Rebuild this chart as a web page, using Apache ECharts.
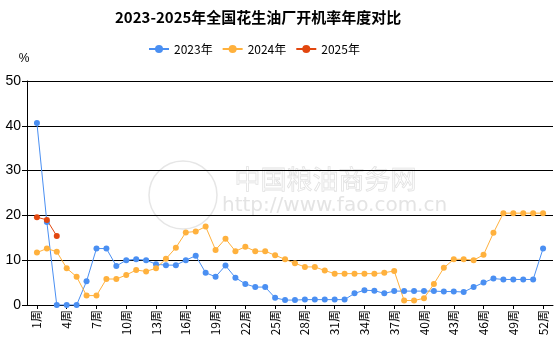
<!DOCTYPE html>
<html>
<head>
<meta charset="utf-8">
<script src="https://cdn.jsdelivr.net/npm/echarts@6/dist/echarts.min.js"></script>
<style>
  html, body { margin: 0; padding: 0; background: #fff; }
  #chart { width: 556px; height: 340px; }
</style>
</head>
<body>
<div id="chart"></div>
<script>
// Weekly operating rate of peanut oil mills (%), weeks 1-52
const weeks = [];
for (let i = 1; i <= 52; i++) weeks.push(i + '周');

const yTicks = [0, 10, 20, 30, 40, 50];

const rate2023 = [
  40.6, 18.5, 0, 0, 0, 5.3, 12.6, 12.6, 8.7, 10.0,
  10.2, 10.0, 9.1, 8.9, 8.9, 10.0, 11.0, 7.2, 6.3, 8.8,
  6.1, 4.7, 4.0, 4.0, 1.6, 1.1, 1.1, 1.2, 1.2, 1.2,
  1.2, 1.2, 2.6, 3.3, 3.2, 2.6, 3.1, 3.1, 3.1, 3.1,
  3.1, 3.0, 3.0, 2.9, 4.0, 5.0, 5.9, 5.7, 5.7, 5.7,
  5.7, 12.6
];

const rate2024 = [
  11.7, 12.6, 11.9, 8.2, 6.3, 2.1, 2.1, 5.8, 5.8, 6.7,
  7.8, 7.5, 8.2, 10.3, 12.8, 16.2, 16.4, 17.5, 12.3, 14.8,
  12.0, 13.0, 12.0, 12.0, 11.1, 10.2, 9.3, 8.5, 8.5, 7.7,
  7.0, 7.0, 7.0, 7.0, 7.0, 7.2, 7.6, 1.0, 1.0, 1.5,
  4.7, 8.3, 10.2, 10.2, 10.0, 11.2, 16.1, 20.5, 20.5, 20.5,
  20.5, 20.5
];

const rate2025 = [19.6, 19.0, 15.4];

// Category axis padded with one empty slot on each side
const axisCats = [''].concat(weeks, ['']);
const pad = arr => [null].concat(arr);
const showWeek = idx => idx >= 1 && idx <= 52 && (idx - 1) % 3 === 0;

const chart = echarts.init(document.getElementById('chart'), null, { renderer: 'canvas' });

const seriesStyle = (name, color, data) => ({
  name: name,
  type: 'line',
  data: pad(data),
  symbol: 'circle',
  symbolSize: 6,
  connectNulls: false,
  itemStyle: { color: color },
  lineStyle: { color: color, width: 1 },
  emphasis: { disabled: true }
});

chart.setOption({
  animation: false,
  backgroundColor: '#fff',
  title: {
    text: '2023-2025年全国花生油厂开机率年度对比',
    left: 110,
    top: 5,
    textStyle: {
      fontFamily: 'Noto Sans CJK SC',
      fontSize: 15,
      fontWeight: 'bold',
      color: '#000'
    }
  },
  legend: {
    top: 43,
    left: 148,
    padding: 0,
    itemWidth: 20,
    itemHeight: 10,
    itemGap: 9,
    textStyle: { fontFamily: 'Noto Sans CJK SC', fontSize: 12, color: '#000' },
    data: ['2023年', '2024年', '2025年']
  },
  graphic: [
    {
      type: 'circle',
      shape: { cx: 183, cy: 195, r: 34 },
      style: { fill: 'none', stroke: '#e6e6e6', lineWidth: 1.5 },
      z: 0, silent: true
    },
    {
      type: 'text',
      left: 234, top: 166,
      style: {
        text: '中国粮油商务网',
        font: '26px "Noto Sans CJK SC"',
        fill: 'none',
        stroke: '#e2e2e2',
        lineWidth: 0.8
      },
      z: 0, silent: true
    },
    {
      type: 'text',
      left: 222, top: 196,
      style: {
        text: 'http://www.fao.com.cn',
        font: '20px "DejaVu Sans"',
        fill: '#e4e4e4'
      },
      z: 0, silent: true
    }
  ],
  grid: { left: 27, right: 3, top: 81, bottom: 35 },
  xAxis: {
    type: 'category',
    data: axisCats,
    boundaryGap: false,
    axisLine: { lineStyle: { color: '#000', width: 1 } },
    axisTick: { interval: showWeek, length: 4, lineStyle: { color: '#000' } },
    axisLabel: {
      interval: showWeek,
      rotate: 90,
      margin: 5,
      color: '#000',
      fontFamily: 'Noto Sans CJK SC',
      fontSize: 12
    },
    splitLine: { show: false }
  },
  yAxis: {
    type: 'value',
    min: yTicks[0],
    max: yTicks[yTicks.length - 1],
    interval: 10,
    name: '%',
    nameGap: 16,
    nameTextStyle: { color: '#000', fontSize: 12, padding: [0, 6, 0, 0] },
    axisLine: { show: true, lineStyle: { color: '#000', width: 1 } },
    axisTick: { show: true, length: 5, lineStyle: { color: '#000' } },
    axisLabel: { color: '#000', fontSize: 14, margin: 6, fontFamily: 'Liberation Sans' },
    splitLine: { lineStyle: { color: '#000', width: 1 } }
  },
  series: [
    seriesStyle('2023年', '#4a8ff2', rate2023),
    seriesStyle('2024年', '#ffb13d', rate2024),
    seriesStyle('2025年', '#e2470f', rate2025)
  ]
});
</script>
</body>
</html>
